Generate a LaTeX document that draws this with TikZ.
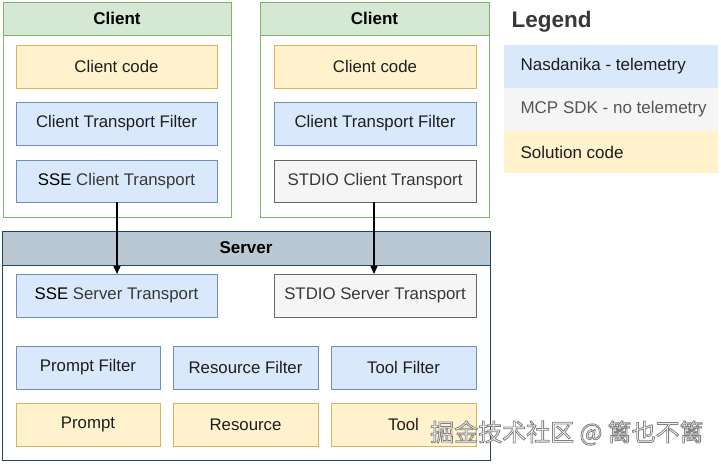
\documentclass[tikz,border=0pt]{standalone}
\usepackage{fontspec}
\setmainfont{Liberation Sans}
\newfontfamily\cjk{Noto Sans CJK SC}
\usetikzlibrary{arrows.meta}
\definecolor{gfill}{HTML}{D5E8D4}
\definecolor{gline}{HTML}{82B366}
\definecolor{bfill}{HTML}{DAE8FC}
\definecolor{bline}{HTML}{6C8EBF}
\definecolor{yfill}{HTML}{FFF2CC}
\definecolor{yline}{HTML}{D6B656}
\definecolor{sfill}{HTML}{F5F5F5}
\definecolor{sline}{HTML}{666666}
\definecolor{hfill}{HTML}{BAC8D3}
\definecolor{hline}{HTML}{23445D}
\definecolor{txt}{HTML}{1E1E1E}
\definecolor{txtl}{HTML}{383838}
\definecolor{txtg}{HTML}{555555}
\tikzset{
  x=1pt,y=-1pt,
  box/.style={line width=1pt},
  bluebox/.style={box, fill=bfill, draw=bline},
  yelbox/.style={box, fill=yfill, draw=yline},
  graybox/.style={box, fill=sfill, draw=sline},
  lbl/.style={text=txt, font=\fontsize{16.8}{19}\selectfont},
  hdr/.style={font=\bfseries\fontsize{17}{19}\selectfont, text=black},
  conn/.style={-{Triangle[length=8pt,width=7pt]}, line width=1.4pt, black},
  legrow/.style={anchor=west, font=\fontsize{17}{19}\selectfont, text=txt},
  wm/.style={anchor=west, font=\cjk\fontsize{24}{28}\selectfont, inner sep=0pt}
}
\begin{document}
\begin{tikzpicture}
\useasboundingbox (0,0) rectangle (721,464);
\fill[white] (0,0) rectangle (721,464);
% Client 1
\draw[gline, line width=1pt, fill=white] (3,2) rectangle (231,217);
\draw[gline, line width=1pt, fill=gfill] (3,2) rectangle (231,35);
\node[hdr] (c1h) at (117,18.5) {Client};
% Client 2
\draw[gline, line width=1pt, fill=white] (260,2) rectangle (489,217);
\draw[gline, line width=1pt, fill=gfill] (260,2) rectangle (489,35);
\node[hdr] (c2h) at (374.5,18.5) {Client};
% Server
\draw[hline, line width=1pt, fill=white] (2,231) rectangle (490,460);
\draw[hline, line width=1pt, fill=hfill] (2,231) rectangle (490,265);
\node[hdr] (sh) at (246,248) {Server};

% client 1 boxes
\draw[yelbox] (16,45) rectangle (217,88);
\node[lbl] (cc1) at (116.5,66.5) {Client code};
\draw[bluebox] (16,102) rectangle (217,145);
\node[lbl] (ctf1) at (116.5,123.5) {Client Transport Filter};
\draw[bluebox] (16,160) rectangle (217,202);
\node[lbl] (sse1) at (116.5,181) {\textcolor{black}{SSE} \textcolor{txtl}{Client Transport}};
\coordinate (sse1b) at (117,202);

% client 2 boxes
\draw[yelbox] (274,45) rectangle (476,88);
\node[lbl] (cc2) at (375,66.5) {Client code};
\draw[bluebox] (274,102) rectangle (476,145);
\node[lbl] (ctf2) at (375,123.5) {Client Transport Filter};
\draw[graybox] (274,160) rectangle (476,202);
\node[lbl, text=txtl] (stc) at (375,181) {STDIO Client Transport};
\coordinate (stcb) at (374,202);

% server boxes
\draw[bluebox] (16,274) rectangle (217,317);
\node[lbl] (sss) at (116.5,295.5) {\textcolor{black}{SSE} \textcolor{txtl}{Server Transport}};
\coordinate (ssst) at (117,274);
\draw[graybox] (274,274) rectangle (476,317);
\node[lbl, text=txtl] (sts) at (375,295.5) {STDIO Server Transport};
\coordinate (stst) at (374,274);

\draw[bluebox] (16,346) rectangle (160,389);
\node[lbl] (pf) at (88,367.5) {Prompt Filter};
\draw[bluebox] (173,346) rectangle (318,389);
\node[lbl] (rf) at (245.5,367.5) {Resource Filter};
\draw[bluebox] (331,346) rectangle (476,389);
\node[lbl] (tf) at (403.5,367.5) {Tool Filter};

\draw[yelbox] (16,403) rectangle (160,446);
\node[lbl] (pr) at (88,424.5) {Prompt};
\draw[yelbox] (173,403) rectangle (318,446);
\node[lbl] (rs) at (245.5,424.5) {Resource};
\draw[yelbox] (331,403) rectangle (476,446);
\node[lbl] (tl) at (403.5,424.5) {Tool};

% connectors
\draw[conn] (sse1b) -- (ssst);
\draw[conn] (stcb) -- (stst);

% legend
\node[anchor=west, font=\bfseries\fontsize{22.5}{26}\selectfont, text=txtl] (leg) at (508,22) {Legend};
\fill[bfill] (504,45) rectangle (718,88);
\fill[sfill] (504,88) rectangle (718,131);
\fill[yfill] (504,131) rectangle (718,173);
\node[legrow] (l1) at (517,66.5) {Nasdanika - telemetry};
\node[legrow, text=txtg] (l2) at (517,109.5) {MCP SDK - no telemetry};
\node[legrow] (l3) at (517,152) {Solution code};

% watermark (white text with grey outline)
\node[wm, text=white] (wmk) at (430,433)
  {\special{pdf:literal direct 2 Tr 0.8 w 0.5 G}掘金技术社区 @ 篱也不篱\special{pdf:literal direct 0 Tr}};
\end{tikzpicture}
\end{document}
